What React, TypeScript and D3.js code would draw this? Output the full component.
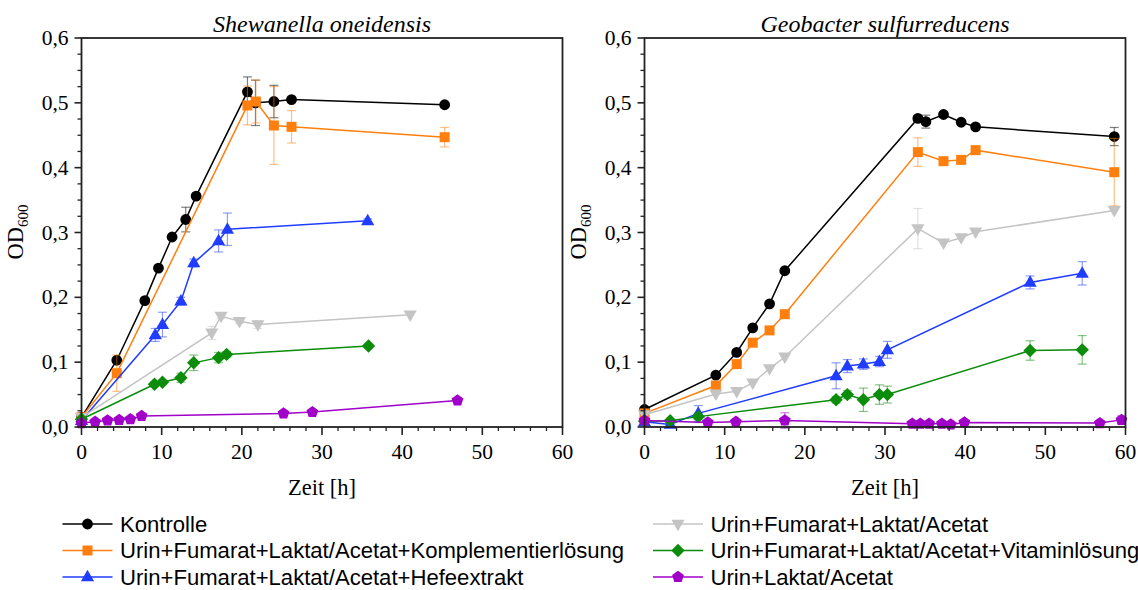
import React from 'react';
import * as d3 from 'd3';

// [Zeit h, OD600, Fehler]
const shewKontrolle = [[0, 0.015, 0], [4.4, 0.103, 0], [7.9, 0.195, 0], [9.6, 0.245, 0], [11.3, 0.293, 0], [13.0, 0.32, 0.019], [14.3, 0.356, 0], [20.7, 0.517, 0.023], [21.7, 0.5, 0.035], [24.0, 0.502, 0.025], [26.2, 0.505, 0], [45.3, 0.497, 0]];
const shewKomplement = [[0, 0.015, 0], [4.4, 0.083, 0.028], [20.7, 0.496, 0.03], [21.75, 0.502, 0.033], [24.0, 0.465, 0.06], [26.2, 0.463, 0.025], [45.3, 0.447, 0.015]];
const shewHefe = [[0, 0.01, 0], [9.2, 0.142, 0.01], [10.1, 0.158, 0.019], [12.4, 0.194, 0.006], [14.0, 0.253, 0.006], [17.1, 0.287, 0.017], [18.2, 0.305, 0.025], [35.7, 0.318, 0.003]];
const shewOhne = [[0, 0.015, 0], [16.25, 0.145, 0.01], [17.4, 0.171, 0.004], [19.7, 0.163, 0.003], [22.0, 0.158, 0.006], [41.0, 0.173, 0]];
const shewVitamin = [[0, 0.012, 0], [9.1, 0.066, 0.004], [10.1, 0.069, 0.003], [12.4, 0.076, 0.007], [14.0, 0.099, 0.012], [17.1, 0.107, 0.008], [18.1, 0.112, 0.004], [35.8, 0.125, 0.003]];
const shewLaktat = [[0, 0.006, 0], [1.7, 0.008, 0], [3.25, 0.01, 0], [4.7, 0.011, 0], [6.1, 0.012, 0], [7.5, 0.017, 0], [25.2, 0.021, 0], [28.8, 0.023, 0], [46.9, 0.041, 0]];

const geoKontrolle = [[0, 0.027, 0], [8.9, 0.08, 0], [11.5, 0.115, 0], [13.5, 0.153, 0], [15.6, 0.19, 0], [17.5, 0.241, 0], [34.1, 0.476, 0.004], [35.1, 0.471, 0.01], [37.3, 0.482, 0], [39.5, 0.47, 0], [41.3, 0.463, 0], [58.6, 0.448, 0.014]];
const geoKomplement = [[0, 0.021, 0], [8.9, 0.064, 0], [11.5, 0.097, 0], [13.5, 0.13, 0], [15.6, 0.149, 0], [17.5, 0.174, 0], [34.1, 0.424, 0.022], [37.3, 0.41, 0.004], [39.5, 0.412, 0.004], [41.3, 0.427, 0.006], [58.6, 0.393, 0.052]];
const geoOhne = [[0, 0.019, 0], [8.9, 0.051, 0], [11.5, 0.055, 0], [13.5, 0.068, 0], [15.6, 0.09, 0], [17.5, 0.108, 0], [34.1, 0.306, 0.031], [37.3, 0.284, 0], [39.5, 0.292, 0], [41.3, 0.301, 0], [58.6, 0.334, 0]];
const geoHefe = [[0, 0.008, 0], [3.2, 0.004, 0], [6.7, 0.021, 0.012], [23.9, 0.079, 0.02], [25.3, 0.094, 0.01], [27.3, 0.097, 0.008], [29.3, 0.101, 0.008], [30.3, 0.119, 0.013], [48.1, 0.223, 0.01], [54.6, 0.237, 0.018]];
const geoVitamin = [[0, 0.009, 0], [3.2, 0.0097, 0], [6.7, 0.016, 0.004], [23.9, 0.042, 0.005], [25.3, 0.05, 0.006], [27.3, 0.042, 0.018], [29.3, 0.05, 0.015], [30.3, 0.05, 0.013], [48.1, 0.118, 0.015], [54.6, 0.119, 0.022]];
const geoLaktat = [[0, 0.01, 0], [7.9, 0.007, 0], [11.4, 0.008, 0], [17.5, 0.01, 0.012], [33.4, 0.005, 0], [34.4, 0.005, 0], [35.5, 0.005, 0], [37.1, 0.005, 0], [38.2, 0.004, 0], [39.9, 0.007, 0], [56.8, 0.006, 0], [59.5, 0.011, 0.006]];

const seriesNames = [
  'Kontrolle',
  'Urin+Fumarat+Laktat/Acetat+Komplementierlösung',
  'Urin+Fumarat+Laktat/Acetat+Hefeextrakt',
  'Urin+Fumarat+Laktat/Acetat',
  'Urin+Fumarat+Laktat/Acetat+Vitaminlösung',
  'Urin+Laktat/Acetat',
];
const seriesColors = ['#000000', '#ff7f0e', '#1f3cff', '#c4c4c4', '#0b8c0b', '#a000c8'];
const seriesSymbols = ['circle', 'square', 'up', 'down', 'diamond', 'pentagon'];

const xTicks = [0, 10, 20, 30, 40, 50, 60];
const yTicks = [0, 0.1, 0.2, 0.3, 0.4, 0.5, 0.6];

const serif = "'Liberation Serif', 'Times New Roman', Times, 'DejaVu Serif', serif";
const sans = "'Liberation Sans', Arial, sans-serif";

function symbolPath(kind: string) {
  if (kind === 'circle') return d3.symbol(d3.symbolCircle, 92)();
  if (kind === 'square') return d3.symbol(d3.symbolSquare, 100)();
  if (kind === 'diamond') {
    const r = 6.7;
    return `M0,${-r}L${r},0L0,${r}L${-r},0Z`;
  }
  if (kind === 'up' || kind === 'down') {
    const h = 11.5, w = 6.6, dir = kind === 'up' ? 1 : -1;
    return `M0,${-h * 0.62 * dir}L${w},${h * 0.38 * dir}L${-w},${h * 0.38 * dir}Z`;
  }
  const r = 6.2;
  const pts = d3.range(5).map(i => {
    const a = -Math.PI / 2 + (i * 2 * Math.PI) / 5;
    return [r * Math.cos(a), r * Math.sin(a)];
  });
  return 'M' + pts.map(p => p.join(',')).join('L') + 'Z';
}

function Panel({ left, title, data }: { left: number; title: string; data: number[][][] }) {
  const x = d3.scaleLinear().domain([0, 60]).range([left, left + 481]);
  const y = d3.scaleLinear().domain([0, 0.6]).range([427, 38]);
  const line = d3.line<number[]>().x(d => x(d[0])).y(d => y(d[1]));
  const xMinor = d3.range(0, 61, 2).filter(v => v % 10 !== 0);
  const yMinor = d3.range(0, 0.6, 0.025).filter((v, i) => i % 4 !== 0);
  const cx = left + 240.5;
  return (
    <g>
      <text x={cx} y={32} textAnchor="middle" style={{ fontFamily: serif }} fontStyle="italic" fontSize={24}>{title}</text>
      {data.map((s, si) => (
        <g key={si}>
          {s.filter(d => d[2] > 0).map((d, i) => (
            <g key={i} stroke={seriesColors[si]} strokeOpacity={0.5} strokeWidth={1.2}>
              <line x1={x(d[0])} x2={x(d[0])} y1={y(d[1] - d[2])} y2={y(d[1] + d[2])} />
              <line x1={x(d[0]) - 4.5} x2={x(d[0]) + 4.5} y1={y(d[1] - d[2])} y2={y(d[1] - d[2])} />
              <line x1={x(d[0]) - 4.5} x2={x(d[0]) + 4.5} y1={y(d[1] + d[2])} y2={y(d[1] + d[2])} />
            </g>
          ))}
          <path d={line(s) || ''} fill="none" stroke={seriesColors[si]} strokeWidth={1.5} />
          {s.map((d, i) => (
            <path key={i} d={symbolPath(seriesSymbols[si]) || ''} transform={`translate(${x(d[0])},${y(d[1])})`} fill={seriesColors[si]} />
          ))}
        </g>
      ))}
      <rect x={left} y={38} width={481} height={389} fill="none" stroke="#222" strokeWidth={1.8} />
      {xTicks.map(t => (
        <g key={t}>
          <line x1={x(t)} x2={x(t)} y1={427} y2={435} stroke="#222" strokeWidth={1.6} />
          <text x={x(t)} y={459} textAnchor="middle" style={{ fontFamily: serif }} fontSize={21.5}>{t}</text>
        </g>
      ))}
      {xMinor.map(t => (
        <line key={t} x1={x(t)} x2={x(t)} y1={427} y2={431} stroke="#222" strokeWidth={1.3} />
      ))}
      {yTicks.map(t => (
        <g key={t}>
          <line x1={left - 7} x2={left} y1={y(t)} y2={y(t)} stroke="#222" strokeWidth={1.6} />
          <text x={left - 13} y={y(t) + 7} textAnchor="end" style={{ fontFamily: serif }} fontSize={21.5}>{d3.format('.1f')(t).replace('.', ',')}</text>
        </g>
      ))}
      {yMinor.map(t => (
        <line key={t} x1={left - 4} x2={left} y1={y(t)} y2={y(t)} stroke="#222" strokeWidth={1.3} />
      ))}
      <text x={cx} y={495} textAnchor="middle" style={{ fontFamily: serif }} fontSize={22.5}>Zeit [h]</text>
      <text transform={`translate(${left - 59},232) rotate(-90)`} textAnchor="middle" style={{ fontFamily: serif }} fontSize={22.5}>
        OD<tspan fontSize={15} dy={5}>600</tspan>
      </text>
    </g>
  );
}

function Legend() {
  const rows = [
    { i: 0, lx: 62.5, y: 524 },
    { i: 1, lx: 62.5, y: 550.5 },
    { i: 2, lx: 62.5, y: 577 },
    { i: 3, lx: 653, y: 524 },
    { i: 4, lx: 653, y: 550.5 },
    { i: 5, lx: 653, y: 577 },
  ];
  return (
    <g>
      {rows.map(r => (
        <g key={r.i}>
          <line x1={r.lx} x2={r.lx + 50} y1={r.y} y2={r.y} stroke={seriesColors[r.i]} strokeWidth={1.5} />
          <path d={symbolPath(seriesSymbols[r.i]) || ''} transform={`translate(${r.lx + 25},${r.y})`} fill={seriesColors[r.i]} />
          <text x={r.lx + 57.5} y={r.y + 7.5} style={{ fontFamily: sans }} fontSize={22.1}>{seriesNames[r.i]}</text>
        </g>
      ))}
    </g>
  );
}

export default function App() {
  const shew = [shewKontrolle, shewKomplement, shewHefe, shewOhne, shewVitamin, shewLaktat];
  const geo = [geoKontrolle, geoKomplement, geoHefe, geoOhne, geoVitamin, geoLaktat];
  return (
    <svg width={1138} height={590} style={{ position: 'absolute', left: 0, top: 0, background: '#fff' }}>
      <Panel left={81.5} title="Shewanella oneidensis" data={shew} />
      <Panel left={644.5} title="Geobacter sulfurreducens" data={geo} />
      <Legend />
    </svg>
  );
}
